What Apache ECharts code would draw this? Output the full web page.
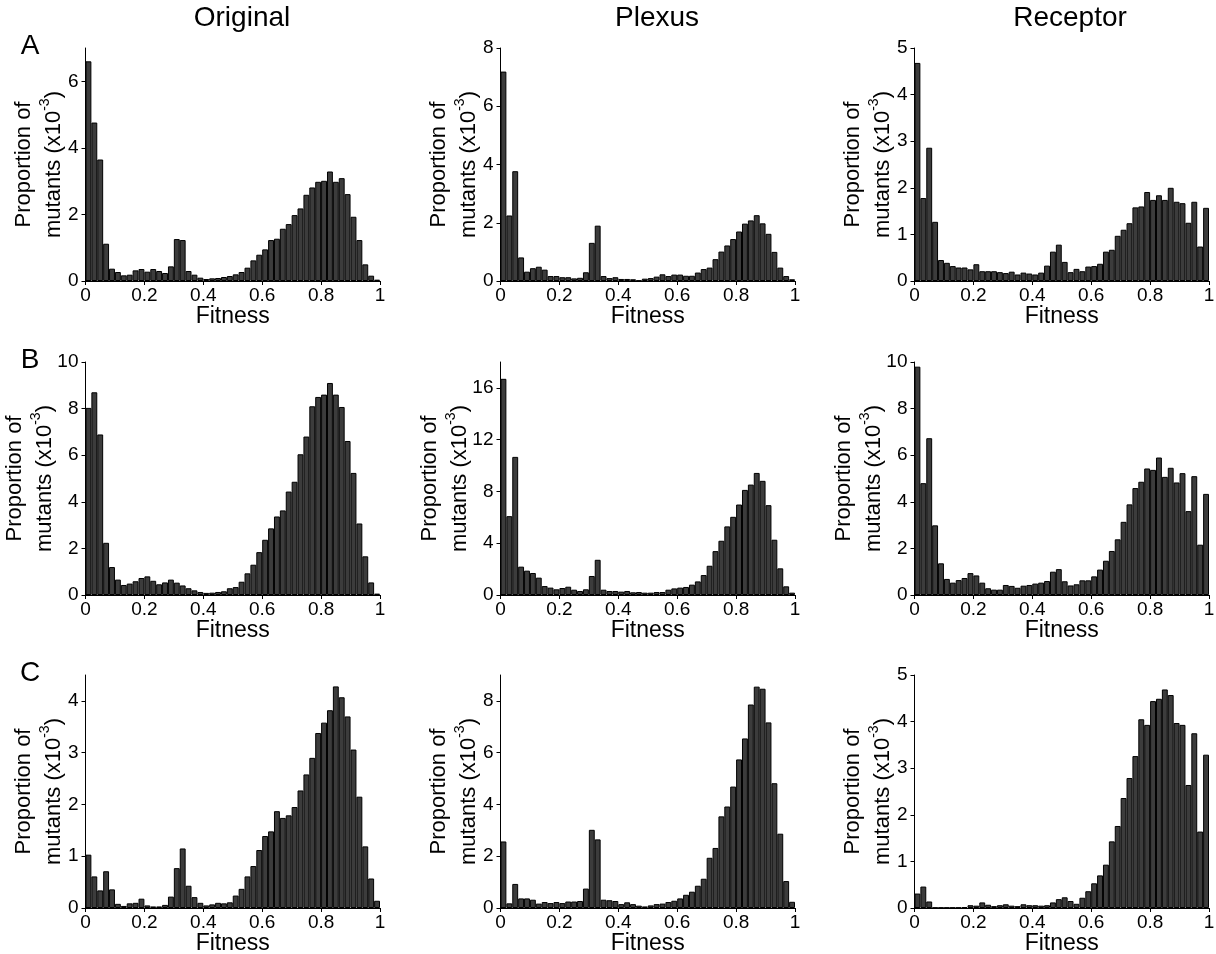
<!DOCTYPE html>
<html><head><meta charset="utf-8">
<script src="https://cdn.jsdelivr.net/npm/echarts@6/dist/echarts.min.js"></script>
<style>html,body{margin:0;padding:0;background:#fff}#c{width:1216px;height:954px}</style>
</head><body><div id="c"></div>
<script>
// bin centres (fitness), width 0.02
const bins = [0.01,0.03,0.05,0.07,0.09,0.11,0.13,0.15,0.17,0.19,0.21,0.23,0.25,0.27,0.29,0.31,0.33,0.35,0.37,0.39,0.41,0.43,0.45,0.47,0.49,0.51,0.53,0.55,0.57,0.59,0.61,0.63,0.65,0.67,0.69,0.71,0.73,0.75,0.77,0.79,0.81,0.83,0.85,0.87,0.89,0.91,0.93,0.95,0.97,0.99];
const columnTitles = ['Original','Plexus','Receptor'];
const rowLetters = ['A','B','C'];
const xTicks = [0,0.2,0.4,0.6,0.8,1];

const aOriginal = [6.60,4.76,3.65,1.12,0.37,0.27,0.17,0.19,0.32,0.36,0.28,0.36,0.30,0.24,0.44,1.26,1.23,0.30,0.19,0.10,0.06,0.08,0.09,0.12,0.15,0.20,0.27,0.40,0.62,0.79,0.95,1.23,1.27,1.57,1.71,1.98,2.18,2.59,2.81,2.98,3.01,3.29,2.98,3.09,2.61,1.93,1.23,0.50,0.16,0.04];
const aPlexus = [7.19,2.25,3.77,0.81,0.32,0.44,0.49,0.39,0.17,0.17,0.13,0.13,0.09,0.11,0.30,1.31,1.90,0.17,0.10,0.13,0.07,0.07,0.06,0.02,0.08,0.10,0.15,0.23,0.17,0.22,0.22,0.18,0.18,0.29,0.41,0.46,0.75,1.01,1.22,1.44,1.70,1.97,2.08,2.26,1.98,1.62,1.00,0.46,0.17,0.06];
const aReceptor = [4.68,1.78,2.86,1.27,0.45,0.39,0.32,0.29,0.29,0.25,0.36,0.21,0.21,0.21,0.19,0.17,0.20,0.14,0.18,0.16,0.14,0.18,0.33,0.63,0.78,0.41,0.19,0.26,0.21,0.31,0.32,0.37,0.63,0.67,0.97,1.10,1.24,1.58,1.60,1.91,1.74,1.84,1.74,2.00,1.70,1.67,1.25,1.70,0.74,1.57];
const bOriginal = [8.03,8.70,6.89,2.24,1.20,0.66,0.43,0.49,0.59,0.73,0.80,0.61,0.46,0.54,0.66,0.53,0.41,0.29,0.20,0.13,0.09,0.10,0.13,0.16,0.29,0.34,0.57,0.93,1.30,1.84,2.37,2.86,3.37,3.63,4.44,4.86,6.04,6.80,8.10,8.50,8.60,9.10,8.60,8.07,6.61,5.24,3.07,1.66,0.54,0.06];
const bPlexus = [16.7,6.09,10.67,2.19,1.88,1.70,1.34,0.69,0.57,0.44,0.54,0.64,0.41,0.31,0.44,1.47,2.72,0.41,0.31,0.31,0.26,0.31,0.21,0.23,0.18,0.18,0.23,0.23,0.41,0.51,0.57,0.62,0.80,1.05,1.54,2.26,3.39,4.19,5.30,6.04,6.99,8.12,8.53,9.43,8.82,6.94,4.27,2.06,0.67,0.18];
const bReceptor = [9.8,4.80,6.73,2.99,1.36,0.69,0.53,0.64,0.73,0.94,0.84,0.53,0.29,0.23,0.23,0.43,0.39,0.31,0.40,0.43,0.49,0.53,0.60,1.00,1.11,0.59,0.41,0.46,0.63,0.63,0.80,1.09,1.47,1.89,2.39,3.14,3.89,4.59,4.86,5.43,5.37,5.90,5.07,5.46,4.83,5.23,3.60,5.10,2.16,4.34];
const cOriginal = [1.03,0.61,0.34,0.71,0.36,0.08,0.04,0.09,0.10,0.18,0.05,0.03,0.03,0.06,0.22,0.77,1.15,0.43,0.21,0.10,0.05,0.07,0.10,0.09,0.11,0.24,0.37,0.61,0.81,1.12,1.39,1.48,1.87,1.74,1.79,1.95,2.27,2.58,2.90,3.38,3.58,3.82,4.28,4.07,3.70,3.06,2.15,1.19,0.57,0.14];
const cPlexus = [2.57,0.18,0.93,0.37,0.37,0.32,0.17,0.23,0.19,0.23,0.19,0.25,0.25,0.27,0.75,3.02,2.65,0.32,0.30,0.27,0.15,0.22,0.15,0.09,0.06,0.10,0.15,0.17,0.23,0.28,0.37,0.51,0.63,0.86,1.13,1.94,2.32,3.54,3.92,4.69,5.74,6.55,7.86,8.55,8.47,7.17,4.82,2.87,1.04,0.24];
const cReceptor = [0.31,0.46,0.14,0.01,0.01,0.01,0.01,0.01,0.02,0.06,0.05,0.12,0.07,0.04,0.06,0.08,0.05,0.04,0.08,0.06,0.06,0.05,0.06,0.12,0.19,0.23,0.15,0.09,0.22,0.36,0.53,0.70,0.93,1.43,1.76,2.36,2.79,3.26,4.05,3.93,4.44,4.49,4.69,4.57,3.97,3.93,2.64,3.75,1.64,3.29];

// y-axis tick labels and axis tops per panel
const yTicksAOriginal = [0,2,4,6];
const yTicksAPlexus = [0,2,4,6,8];
const yTicksAReceptor = [0,1,2,3,4,5];
const yTicksBOriginal = [0,2,4,6,8,10];
const yTicksBPlexus = [0,4,8,12,16];
const yTicksBReceptor = [0,2,4,6,8,10];
const yTicksCOriginal = [0,1,2,3,4];
const yTicksCPlexus = [0,2,4,6,8];
const yTicksCReceptor = [0,1,2,3,4,5];
const yMaxA = [7,8,5];
const yMaxB = [10,18,10];
const yMaxC = [4.5,9,5];

const panels = [
  [aOriginal,yTicksAOriginal,yMaxA[0]],[aPlexus,yTicksAPlexus,yMaxA[1]],[aReceptor,yTicksAReceptor,yMaxA[2]],
  [bOriginal,yTicksBOriginal,yMaxB[0]],[bPlexus,yTicksBPlexus,yMaxB[1]],[bReceptor,yTicksBReceptor,yMaxB[2]],
  [cOriginal,yTicksCOriginal,yMaxC[0]],[cPlexus,yTicksCPlexus,yMaxC[1]],[cReceptor,yTicksCReceptor,yMaxC[2]]
];

const FONT = "'Liberation Sans', Arial, sans-serif";
const lefts = [85.5, 500.5, 914.5];
const tops = [48, 362, 675];
const W = 294.5, H = 233;
const titleX = [242, 657, 1070];

const grid = [], xAxis = [], yAxis = [], series = [], title = [];
const axisLineStyle = {color:'#000', width:1};
panels.forEach((p, i) => {
  const r = Math.floor(i/3), c = i%3;
  const widest = Math.max(...p[1].map(v => String(v).length));
  const gap = 17 + (widest - 1) * 9;
  grid.push({left: lefts[c], top: tops[r], width: W, height: H, containLabel:false, outerBoundsMode:'none'});
  xAxis.push({type:'category', gridIndex:i, data: bins, show:false, boundaryGap:true});
  xAxis.push({type:'value', gridIndex:i, min:0, max:1, interval:0.2, position:'bottom',
    axisLine:{show:true, onZero:false, lineStyle:axisLineStyle},
    axisTick:{show:true, inside:false, length:4, lineStyle:axisLineStyle, customValues: xTicks},
    axisLabel:{show:true, color:'#000', fontSize:19, fontFamily:FONT, margin:5, customValues: xTicks},
    splitLine:{show:false},
    name:'Fitness', nameLocation:'middle', nameGap:24, nameMoveOverlap:false,
    nameTextStyle:{color:'#000', fontSize:23, fontFamily:FONT}
  });
  yAxis.push({type:'value', gridIndex:i, min:0, max:p[2],
    axisLine:{show:true, lineStyle:axisLineStyle},
    axisTick:{show:true, inside:false, length:4, lineStyle:axisLineStyle, customValues:p[1]},
    axisLabel:{show:true, color:'#000', fontSize:19, fontFamily:FONT, margin:7, customValues:p[1]},
    splitLine:{show:false},
    name:'{a|Proportion of}\n{a|mutants (x10}{s|-3}{a|)}',
    nameLocation:'middle', nameRotate:90, nameGap:gap, nameMoveOverlap:false,
    nameTextStyle:{color:'#000', fontSize:22, fontFamily:FONT, lineHeight:30,
      rich:{a:{fontSize:22, fontFamily:FONT, color:'#000', lineHeight:30},
            s:{fontSize:14, fontFamily:FONT, color:'#000', verticalAlign:'top', lineHeight:16}}}
  });
  series.push({type:'bar', xAxisIndex: 2*i, yAxisIndex: i, data: p[0],
    barCategoryGap:'0%', barGap:'0%', silent:true,
    itemStyle:{color:'#3c3c3c', borderColor:'#000', borderWidth:1}
  });
});
columnTitles.forEach((t, c) => title.push({text:t, left:titleX[c], top:4, textAlign:'center', padding:0,
  textStyle:{fontSize:28, fontWeight:'normal', color:'#000', fontFamily:FONT}}));
rowLetters.forEach((t, r) => title.push({text:t, left:30, top:tops[r]-16, textAlign:'center', padding:0,
  textStyle:{fontSize:28, fontWeight:'normal', color:'#000', fontFamily:FONT}}));

const chart = echarts.init(document.getElementById('c'), null, {renderer:'canvas'});
chart.setOption({animation:false, backgroundColor:'#fff', title, grid, xAxis, yAxis, series});
</script></body></html>
